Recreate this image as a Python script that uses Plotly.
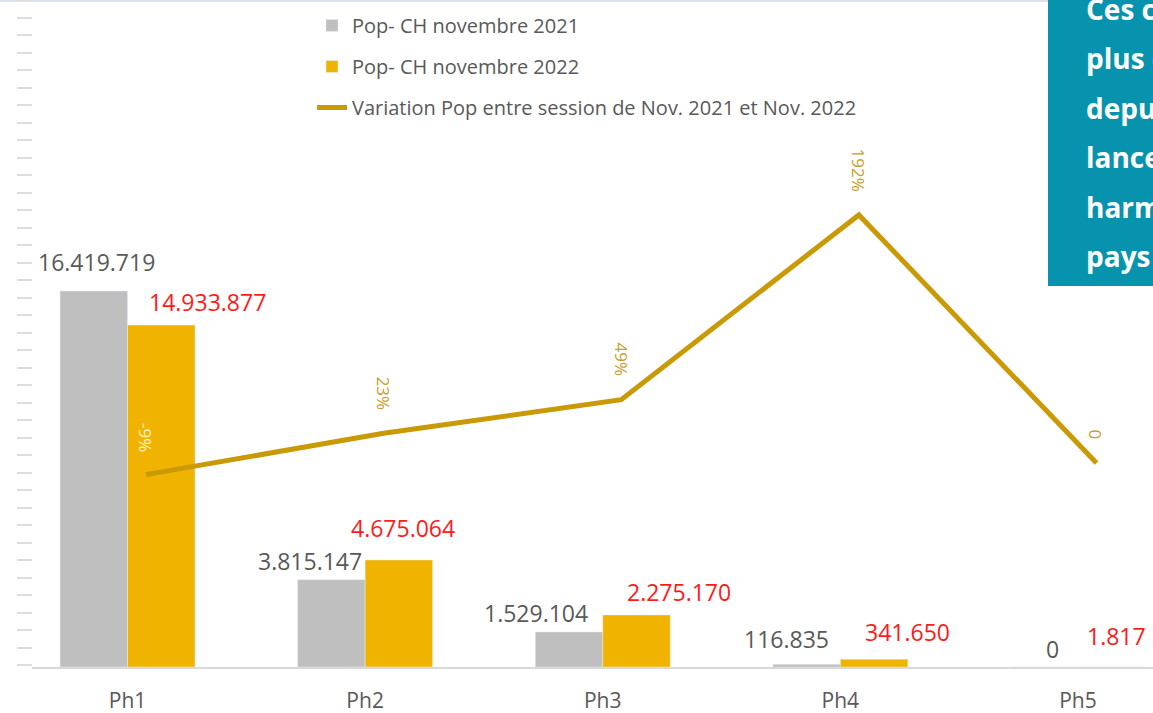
import plotly.graph_objects as go

# ---------------- data ----------------
categories = ["Ph1", "Ph2", "Ph3", "Ph4", "Ph5"]
pop_2021 = [16419719, 3815147, 1529104, 116835, 0]
pop_2022 = [14933877, 4675064, 2275170, 341650, 1817]
variation = [-0.09, 0.23, 0.49, 1.92, 0.0]
variation_labels = ["-9%", "23%", "49%", "192%", "0"]

name_2021 = "Pop- CH novembre 2021"
name_2022 = "Pop- CH novembre 2022"
name_var = "Variation Pop entre session de Nov. 2021 et Nov. 2022"

note_lines = ["Ces chiffres", "plus élevés", "depuis", "lancement", "harmonisé", "pays"]

# ---------------- style ----------------
W, H = 1153, 713
ML = 32
BASE_PX = 667            # pixel row of the x axis line
FONT = "Open Sans"
GRAY_BAR = "#BFBFBF"
GOLD_BAR = "#F0B400"
LINE_COL = "#C99A06"
GRAY_TXT = "#595959"
RED_TXT = "#FF1A1A"
VAR_TXT = ["#FFF1C4", "#C79E2C", "#C79E2C", "#C79E2C", "#C79E2C"]
TEAL = "#0793AE"

# label nudges (pixels) relative to each bar centre / baseline gap above bar top
gray_dx = [3, -21, -33, -20, 9]
gold_dx = [46, 4, 42, 33, 5]
gray_gap = [19, 9, 9, 15, 8]
gold_gap = [13, 22, 13, 17, 21]
HALF_BAR = 34

def fmt(v):
    return f"{v:,}".replace(",", ".")

def py(pixel_from_top):
    return 1 - pixel_from_top / H

def px(pixel_from_left):
    return (pixel_from_left - ML) / (W - ML)

fig = go.Figure()

fig.add_trace(go.Bar(
    x=categories, y=pop_2021, name=name_2021, marker_color=GRAY_BAR,
    legendgroup="a", xaxis="x", yaxis="y"))
fig.add_trace(go.Bar(
    x=categories, y=pop_2022, name=name_2022, marker_color=GOLD_BAR,
    legendgroup="b", xaxis="x", yaxis="y"))
fig.add_trace(go.Scatter(
    x=categories, y=variation, name=name_var, mode="lines",
    line=dict(color=LINE_COL, width=5), legendgroup="c",
    xaxis="x2", yaxis="y2"))
# invisible helper trace for the left ruler axis
fig.add_trace(go.Scatter(x=[None], y=[None], yaxis="y3", showlegend=False, hoverinfo="skip"))

annotations = []
for i, c in enumerate(categories):
    annotations.append(dict(
        x=c, y=pop_2021[i], xref="x", yref="y", text=fmt(pop_2021[i]),
        showarrow=False, xanchor="center", yanchor="bottom",
        xshift=-HALF_BAR + gray_dx[i], yshift=gray_gap[i] - 8,
        font=dict(family=FONT, size=23, color=GRAY_TXT)))
    annotations.append(dict(
        x=c, y=pop_2022[i], xref="x", yref="y", text=fmt(pop_2022[i]),
        showarrow=False, xanchor="center", yanchor="bottom",
        xshift=HALF_BAR + gold_dx[i], yshift=gold_gap[i] - 8,
        font=dict(family=FONT, size=23, color=RED_TXT)))
    annotations.append(dict(
        x=c, y=variation[i], xref="x2", yref="y2", text=variation_labels[i],
        showarrow=False, textangle=90, xanchor="center", yanchor="bottom",
        yshift=21, font=dict(family=FONT, size=17, color=VAR_TXT[i])))

# teal note box text (cut by the frame edge)
for k, line in enumerate(note_lines):
    baseline = 21 + 49.4 * k
    annotations.append(dict(
        x=px(1084), y=py(baseline + 9), xref="paper", yref="paper",
        text=line, showarrow=False, xanchor="left", yanchor="bottom",
        font=dict(family=FONT, size=28, color="white", weight="bold")))

shapes = [
    dict(type="line", xref="paper", yref="paper", x0=px(0), x1=px(1048),
         y0=py(1), y1=py(1), line=dict(color="#DCE2EE", width=2), layer="below"),
    dict(type="rect", xref="paper", yref="paper", x0=px(1048), x1=1.1,
         y0=py(286), y1=1.05, fillcolor=TEAL, line=dict(width=0), layer="above"),
]

px_per_unit = 237.6
xr0 = -(127.5 - ML) / px_per_unit
xr1 = 4 + (W - 1078) / px_per_unit
shift = 18.5 / px_per_unit

plot_h = BASE_PX
px_per_million = 22.9
y_max = plot_h / px_per_million * 1e6
y2_zero = 463
y2_scale = 129.2

fig.update_layout(
    width=W, height=H,
    margin=dict(l=ML, r=0, t=0, b=0, pad=0),
    paper_bgcolor="white", plot_bgcolor="white",
    barmode="group", bargap=0.432, bargroupgap=0,
    font=dict(family=FONT, color=GRAY_TXT),
    showlegend=True,
    legend=dict(
        x=px(312), y=py(6), xanchor="left", yanchor="top",
        font=dict(family=FONT, size=20, color=GRAY_TXT),
        tracegroupgap=12, bgcolor="rgba(0,0,0,0)", traceorder="grouped"),
    xaxis=dict(
        domain=[0, 1], range=[xr0, xr1], type="category",
        showline=True, linecolor="#D9D9D9", linewidth=1.5,
        showgrid=False, zeroline=False, ticks="",
        tickfont=dict(family=FONT, size=21, color=GRAY_TXT),
        ticklabelstandoff=14, anchor="y", automargin=False),
    yaxis=dict(
        domain=[1 - BASE_PX / H, 1], range=[0, y_max],
        visible=False, showgrid=False, zeroline=False, fixedrange=True),
    xaxis2=dict(
        overlaying="x", range=[xr0 - shift, xr1 - shift], type="category",
        visible=False, anchor="y2", showgrid=False),
    yaxis2=dict(
        overlaying="y", range=[-(plot_h - y2_zero) / y2_scale, y2_zero / y2_scale],
        visible=False, showgrid=False, zeroline=False, anchor="x2"),
    yaxis3=dict(
        domain=[0, 1], overlaying="y", anchor="free", position=0,
        range=[0, H], tick0=2, dtick=18.7, ticks="outside", ticklen=15,
        tickwidth=1.5, tickcolor="#DDDDDD", showticklabels=False,
        showline=False, showgrid=False, zeroline=False),
    annotations=annotations,
    shapes=shapes,
)

fig.write_html(
    "out.html",
    config={"displayModeBar": False},
    post_script="document.body.style.margin='0';document.body.style.overflow='hidden';",
)
